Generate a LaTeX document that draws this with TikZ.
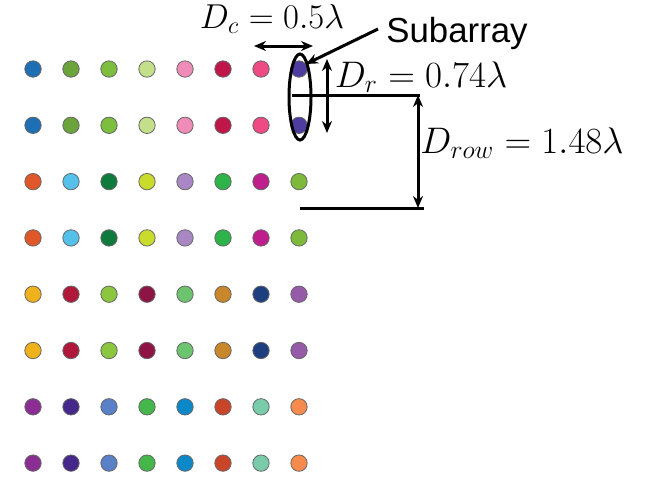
\documentclass[tikz,border=0pt]{standalone}
\usepackage{fontspec}
\newfontfamily\sanslabel{Liberation Sans}
\usetikzlibrary{arrows.meta}
% dot colours, one list per pair of rows
\definecolor{c11}{HTML}{1F6FB5}\definecolor{c12}{HTML}{6BA43A}\definecolor{c13}{HTML}{7DBE3F}\definecolor{c14}{HTML}{C4DF8A}
\definecolor{c15}{HTML}{F08CB8}\definecolor{c16}{HTML}{C0174A}\definecolor{c17}{HTML}{EE4A84}\definecolor{c18}{HTML}{4E3C9F}
\definecolor{c21}{HTML}{E0582A}\definecolor{c22}{HTML}{55C0EA}\definecolor{c23}{HTML}{0E7A3B}\definecolor{c24}{HTML}{C9DC2C}
\definecolor{c25}{HTML}{A987C4}\definecolor{c26}{HTML}{2DB34A}\definecolor{c27}{HTML}{BE1F8C}\definecolor{c28}{HTML}{7DBA3C}
\definecolor{c31}{HTML}{F0B21C}\definecolor{c32}{HTML}{B0183A}\definecolor{c33}{HTML}{8CC63F}\definecolor{c34}{HTML}{8E1445}
\definecolor{c35}{HTML}{6CC46E}\definecolor{c36}{HTML}{C8872A}\definecolor{c37}{HTML}{1E3F7F}\definecolor{c38}{HTML}{955AA8}
\definecolor{c41}{HTML}{8B2E93}\definecolor{c42}{HTML}{45288A}\definecolor{c43}{HTML}{5A80C8}\definecolor{c44}{HTML}{45B649}
\definecolor{c45}{HTML}{0A88C8}\definecolor{c46}{HTML}{C9452A}\definecolor{c47}{HTML}{7ACBAA}\definecolor{c48}{HTML}{F58B4C}
\newcommand{\biglabel}[1]{\scalebox{1.07}{$#1$}}

\begin{document}
\begin{tikzpicture}[x=0.5pt,y=-0.5pt,>={Stealth[length=6pt,width=5pt]},
  dot/.style={circle,draw=black!60,line width=0.4pt,minimum size=8.2pt,inner sep=0pt},
  lbl/.style={font=\fontsize{17.28}{21}\selectfont,inner sep=0pt,anchor=base},
  bold line/.style={line width=1.5pt}]
  \useasboundingbox (0,0) rectangle (646,479);
  \foreach \g in {1,...,4}
    \foreach \k in {0,1}
      \foreach \j in {1,...,8}
        \node[dot,fill=c\g\j] (d\g\k\j) at ({33+38*(\j-1)},{69+56.3*(2*\g+\k-2)}) {};
  \draw[bold line] (300,97) ellipse [x radius=11,y radius=43];
  \node[lbl] (Dc) at (272,28) {$D_c = 0.5\lambda$};
  \node[lbl,font=\sanslabel\fontsize{17.4}{20}\selectfont] (sub) at (457,42) {Subarray};
  \node[lbl] (Dr) at (421,87) {\biglabel{D_r = 0.74\lambda}};
  \node[lbl] (Drow) at (522,153) {\biglabel{D_{row} = 1.48\lambda}};
  \coordinate (Cl) at (254,46);
  \coordinate (Cr) at (313,46);
  \coordinate (Rt) at (327,59);
  \coordinate (Rb) at (327,133);
  \coordinate (T) at (306,64);
  \coordinate (A1) at (292,95);
  \coordinate (A2) at (420,95);
  \coordinate (B1) at (300,208);
  \coordinate (B2) at (424,208);
  \coordinate (P1) at (418,95);
  \coordinate (P2) at (418,208);
  \draw[bold line,<->] (Cl)--(Cr);
  \draw[bold line,<->] (Rt)--(Rb);
  \draw[bold line,->] ([xshift=-4pt,yshift=2pt]sub.west)--(T);
  \draw[bold line] (A1)--(A2);
  \draw[bold line] (B1)--(B2);
  \draw[bold line,<->] (P1)--(P2);
\end{tikzpicture}
\end{document}
